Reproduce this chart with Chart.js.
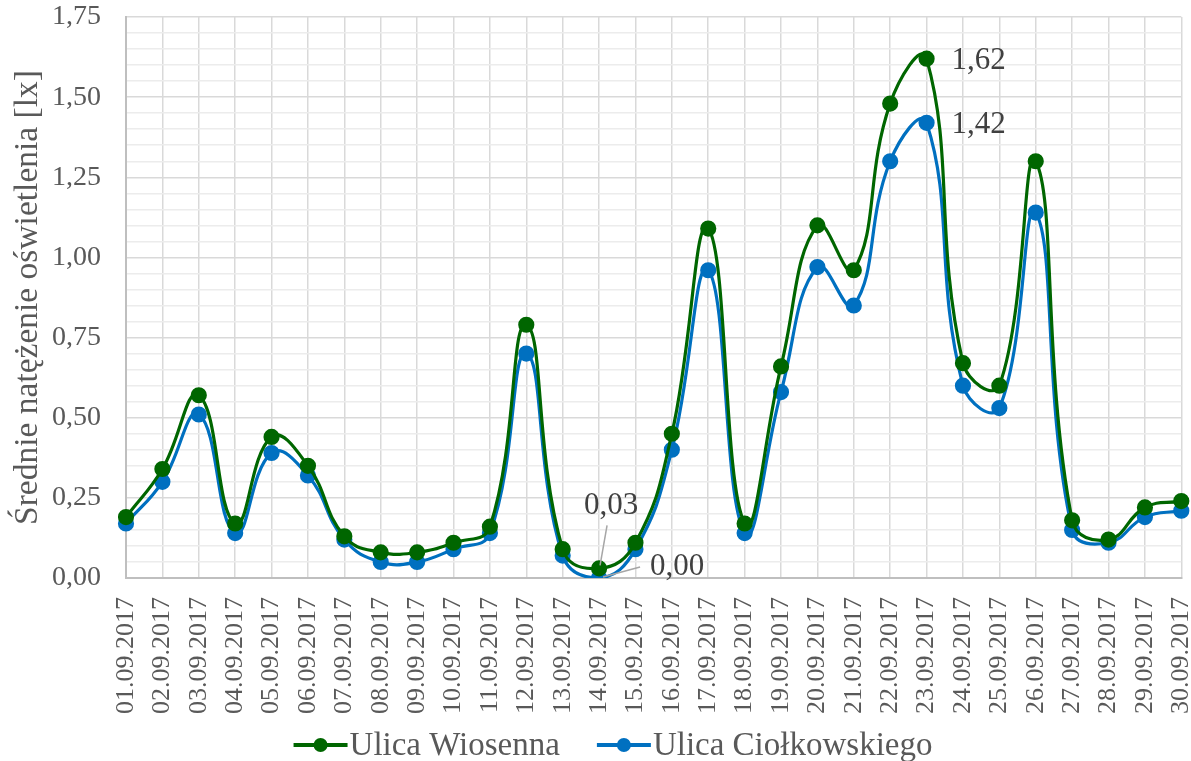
<!DOCTYPE html>
<html><head><meta charset="utf-8">
<script src="https://cdn.jsdelivr.net/npm/chart.js@4/dist/chart.umd.min.js"></script>
<style>html,body{margin:0;padding:0;background:#fff}#w{width:1191px;height:761px}</style>
</head><body><div id="w"><canvas id="c"></canvas></div>
<script>
const categories = ["01.09.2017","02.09.2017","03.09.2017","04.09.2017","05.09.2017","06.09.2017","07.09.2017","08.09.2017","09.09.2017","10.09.2017","11.09.2017","12.09.2017","13.09.2017","14.09.2017","15.09.2017","16.09.2017","17.09.2017","18.09.2017","19.09.2017","20.09.2017","21.09.2017","22.09.2017","23.09.2017","24.09.2017","25.09.2017","26.09.2017","27.09.2017","28.09.2017","29.09.2017","30.09.2017"];
const wiosenna = [0.19,0.34,0.57,0.17,0.44,0.35,0.13,0.08,0.08,0.11,0.16,0.79,0.09,0.03,0.11,0.45,1.09,0.17,0.66,1.10,0.96,1.48,1.62,0.67,0.60,1.30,0.18,0.12,0.22,0.24];
const ciolkowskiego = [0.17,0.30,0.51,0.14,0.39,0.32,0.12,0.05,0.05,0.09,0.14,0.70,0.07,0.00,0.09,0.40,0.96,0.14,0.58,0.97,0.85,1.30,1.42,0.60,0.53,1.14,0.15,0.11,0.19,0.21];
const seriesNames = ["Ulica Wiosenna","Ulica Ciołkowskiego"];
const yTitle = "Średnie natężenie oświetlenia [lx]";

const FONT = "'Liberation Serif', 'Times New Roman', serif";
const GREEN = "#006600", BLUE = "#0070C0";
const fmt = v => v.toFixed(2).replace('.', ',');

// labels: [datasetIndex, pointIndex, dx, dy, align, leader]
const dataLabels = [
  [0,22,25,2,'left',null],
  [1,22,25,2,'left',null],
  [0,13,12,-63,'center',[8,-43,1,-3]],
  [1,13,51,-11,'left',[41,-11,4,-1]]
];
const labelPlugin = {
  id:'labels',
  afterDatasetsDraw(chart){
    const ctx = chart.ctx;
    ctx.save();
    ctx.font = "31px " + FONT;
    ctx.fillStyle = "#404040";
    ctx.textBaseline = 'middle';
    dataLabels.forEach(([d,i,dx,dy,al,ld])=>{
      const el = chart.getDatasetMeta(d).data[i];
      const v = chart.data.datasets[d].data[i];
      if(ld){
        ctx.strokeStyle = "#a6a6a6"; ctx.lineWidth = 1.5;
        ctx.beginPath(); ctx.moveTo(el.x+ld[0], el.y+ld[1]); ctx.lineTo(el.x+ld[2], el.y+ld[3]); ctx.stroke();
      }
      ctx.textAlign = al;
      ctx.fillText(fmt(v), el.x+dx, el.y+dy);
    });
    ctx.restore();
  }
};

const legendPlugin = {
  id:'customLegend',
  afterDraw(chart){
    const ctx = chart.ctx;
    ctx.save();
    ctx.font = "33px " + FONT;
    ctx.textBaseline = 'middle';
    ctx.textAlign = 'left';
    const iconW = 54, gapText = 2, gapItem = 37, cy = 745;
    const items = chart.data.datasets.map(ds=>({t:ds.label, c:ds.borderColor, w:iconW+gapText+ctx.measureText(ds.label).width}));
    const total = items.reduce((s,it)=>s+it.w,0) + gapItem*(items.length-1);
    let x = 613 - total/2;
    items.forEach(it=>{
      ctx.strokeStyle = it.c; ctx.lineWidth = 4;
      ctx.beginPath(); ctx.moveTo(x, cy); ctx.lineTo(x+iconW, cy); ctx.stroke();
      ctx.fillStyle = it.c; ctx.beginPath(); ctx.arc(x+iconW/2, cy, 7, 0, Math.PI*2); ctx.fill();
      ctx.fillStyle = "#595959";
      ctx.fillText(it.t, x+iconW+gapText, cy+1);
      x += it.w + gapItem;
    });
    ctx.restore();
  }
};

new Chart(document.getElementById('c'), {
  type:'line',
  data:{
    labels: categories,
    datasets:[
      {label:seriesNames[0], data:wiosenna, borderColor:GREEN, backgroundColor:GREEN, borderWidth:3.2, pointRadius:6.5, pointHoverRadius:6.5, tension:0.45},
      {label:seriesNames[1], data:ciolkowskiego, borderColor:BLUE, backgroundColor:BLUE, borderWidth:3.2, pointRadius:6.5, pointHoverRadius:6.5, tension:0.45}
    ]
  },
  options:{
    responsive:true, maintainAspectRatio:false, animation:false,
    layout:{padding:{top:1,right:0,left:0,bottom:46}},
    plugins:{ legend:{display:false}, tooltip:{enabled:false} },
    scales:{
      x:{
        grid:{color:"#d9d9d9", lineWidth:1.5, drawTicks:false},
        border:{color:"#bfbfbf", width:2},
        ticks:{font:{family:FONT,size:26}, color:"#595959", maxRotation:90, minRotation:90, autoSkip:false, padding:19},
        afterFit(s){ s.paddingRight = 6; s.height = 137; }
      },
      y:{
        min:0, max:1.75,
        grid:{color:c=> (Math.round(c.tick.value*100)%25===0) ? "#d9d9d9" : "#ececec", lineWidth:1.5, drawTicks:false},
        border:{color:"#bfbfbf", width:2},
        title:{display:true, text:yTitle, font:{family:FONT,size:33.5}, color:"#595959", padding:{top:8,bottom:0}},
        ticks:{stepSize:0.05, autoSkip:false, font:{family:FONT,size:28}, color:"#595959", padding:25,
          callback:v=> (Math.round(v*100)%25===0) ? fmt(v) : ''},
        afterFit(s){ s.width = 126; s.paddingTop = 17; s.paddingBottom = 17; }
      }
    }
  },
  plugins:[labelPlugin, legendPlugin]
});
</script></body></html>
